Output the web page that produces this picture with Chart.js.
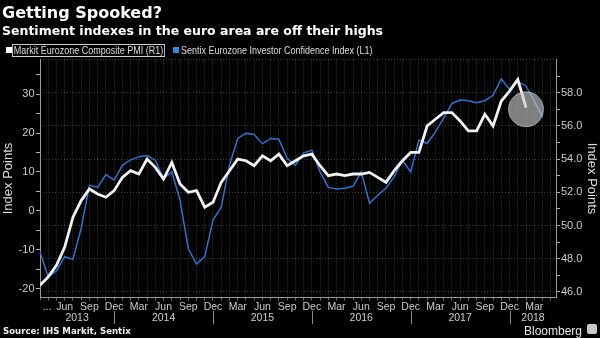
<!DOCTYPE html>
<html>
<head>
<meta charset="utf-8">
<script src="https://cdn.jsdelivr.net/npm/chart.js@4.4.1/dist/chart.umd.min.js"></script>
<style>
html,body{margin:0;padding:0;background:#000;}
#wrap{position:relative;width:600px;height:338px;overflow:hidden;background:#000;}
#c{position:absolute;left:0;top:0;}
.t{position:absolute;white-space:nowrap;}
#title{left:2px;top:4px;line-height:18px;font-family:"DejaVu Sans",sans-serif;font-weight:bold;font-size:16px;color:#fff;}
#sub{left:2px;top:22.5px;line-height:15px;font-family:"DejaVu Sans",sans-serif;font-weight:bold;font-size:12.5px;color:#fff;}
.leg{top:44.5px;line-height:11px;font-family:"Liberation Sans",Arial,sans-serif;font-size:10px;color:#dedede;transform:scaleX(0.9);transform-origin:0 50%;}
.sq{position:absolute;top:47px;width:6px;height:6px;}
#src{left:3px;top:326px;line-height:10px;font-family:"DejaVu Sans",sans-serif;font-weight:bold;font-size:8.6px;color:#eee;}
#bb{left:524px;top:324.5px;line-height:12px;font-family:"Liberation Sans",sans-serif;font-size:12px;color:#e6e6e6;}
#bbicon{position:absolute;left:587px;top:324px;width:10px;height:10px;border-radius:2px;background:#c9c9c9;}
</style>
</head>
<body>
<div id="wrap">
<canvas id="c" width="600" height="338"></canvas>
<div class="t" id="title">Getting Spooked?</div>
<div class="t" id="sub">Sentiment indexes in the euro area are off their highs</div>
<div class="sq" style="left:6px;background:#fff;"></div>
<div class="t leg" style="left:12px;border:1px solid #d0d0d0;padding:0 1px;top:43.5px;">Markit Eurozone Composite PMI (R1)</div>
<div class="sq" style="left:173px;background:#2d8ae6;"></div>
<div class="t leg" style="left:181px;">Sentix Eurozone Investor Confidence Index (L1)</div>
<div class="t" id="src">Source: IHS Markit, Sentix</div>
<div class="t" id="bb">Bloomberg</div>
<div id="bbicon"></div>
</div>
<script>
// ---- data ----
const categories = [
 'Mar 2013','Apr 2013','May 2013','Jun 2013','Jul 2013','Aug 2013','Sep 2013','Oct 2013','Nov 2013','Dec 2013',
 'Jan 2014','Feb 2014','Mar 2014','Apr 2014','May 2014','Jun 2014','Jul 2014','Aug 2014','Sep 2014','Oct 2014','Nov 2014','Dec 2014',
 'Jan 2015','Feb 2015','Mar 2015','Apr 2015','May 2015','Jun 2015','Jul 2015','Aug 2015','Sep 2015','Oct 2015','Nov 2015','Dec 2015',
 'Jan 2016','Feb 2016','Mar 2016','Apr 2016','May 2016','Jun 2016','Jul 2016','Aug 2016','Sep 2016','Oct 2016','Nov 2016','Dec 2016',
 'Jan 2017','Feb 2017','Mar 2017','Apr 2017','May 2017','Jun 2017','Jul 2017','Aug 2017','Sep 2017','Oct 2017','Nov 2017','Dec 2017',
 'Jan 2018','Feb 2018','Mar 2018','Apr 2018'
];
// Markit Eurozone Composite PMI (right axis)
const pmiValues = [
 46.4,46.9,47.6,48.7,50.5,51.5,52.2,51.9,51.7,52.1,
 52.9,53.3,53.1,54.0,53.5,52.8,53.8,52.5,52.0,52.1,51.1,51.4,
 52.6,53.3,54.0,53.9,53.6,54.2,53.9,54.3,53.6,53.9,54.2,54.3,
 53.6,53.0,53.1,53.0,53.1,53.1,53.2,52.9,52.6,53.3,53.9,54.4,
 54.4,56.0,56.4,56.8,56.8,56.3,55.7,55.7,56.7,56.0,57.5,58.1,
 58.8,57.1
];
// Sentix Eurozone Investor Confidence (left axis)
const sentixValues = [
 -10.5,-17.1,-15.4,-11.8,-12.5,-4.5,6.6,6.0,9.3,7.9,
 11.7,13.1,13.9,14.2,13.0,8.3,10.0,2.7,-9.7,-13.7,-11.8,-2.4,
 0.9,11.7,18.6,19.9,19.6,17.2,18.6,18.4,13.5,11.7,14.9,15.6,
 10.0,6.0,5.6,5.8,6.3,10.0,1.9,4.0,5.8,8.7,13.0,10.0,
 18.2,17.3,20.3,23.8,27.6,28.5,28.3,27.8,28.3,29.7,33.9,31.2,
 33.2,32.1,null,24.2
];
const highlightValue = 57.0;           // circled latest PMI reading
const leftTickValues = [-20,-15,-10,-5,0,5,10,15,20,25,30,35];
const leftLabelEvery = 10;
const rightTickValues = [46,47,48,49,50,51,52,53,54,55,56,57,58,59,60];
const rightLabels = ['46.0','48.0','50.0','52.0','54.0','56.0','58.0'];
const firstTickLabel = '...';
const yearLabels = ['2013','2014','2015','2016','2017','2018'];

// ---- derived ----
const X_MAX = 62.7;
const ELLIPSIS_POS = 0.85;
const monthTicks = [];
for (let k = 0; k <= 62; k++) monthTicks.push(k);
const quarterLabel = k => (k > 0 && k % 3 === 0 && k < categories.length) ? categories[k].slice(0,3) : '';
const decIdx = categories.map((c,i)=>c.startsWith('Dec') ? i : -1).filter(i=>i>=0);

const FONT = '"Liberation Sans", Arial, sans-serif';
Chart.defaults.font.family = FONT;
Chart.defaults.color = '#cccccc';

const GRID = 'rgba(255,255,255,0.24)';
const AXIS = '#9a9a9a';

const yearPlugin = {
  id: 'years',
  afterDraw(chart) {
    const xs = chart.scales.x, ctx = chart.ctx;
    ctx.save();
    ctx.strokeStyle = '#8a8a8a';
    ctx.lineWidth = 1;
    decIdx.forEach(k => {
      const px = Math.round(xs.getPixelForValue(k)) + 0.5;
      ctx.beginPath(); ctx.moveTo(px, xs.top + 13.5); ctx.lineTo(px, xs.top + 26.5); ctx.stroke();
    });
    const bounds = [0, ...decIdx, X_MAX];
    ctx.fillStyle = '#cfcfcf';
    ctx.font = '10.5px ' + FONT;
    ctx.textAlign = 'center';
    ctx.textBaseline = 'middle';
    yearLabels.forEach((y, i) => {
      const mid = (bounds[i] + bounds[i+1]) / 2;
      ctx.fillText(y, xs.getPixelForValue(mid), xs.top + 21);
    });
    ctx.restore();
  }
};

new Chart(document.getElementById('c'), {
  type: 'line',
  data: {
    datasets: [
      {
        label: 'highlight',
        data: [{x: pmiValues.length - 1, y: highlightValue}],
        yAxisID: 'y1',
        showLine: false,
        pointRadius: 17.5,
        pointHoverRadius: 17.5,
        pointBackgroundColor: 'rgba(205,205,205,0.62)',
        pointBorderColor: 'rgba(225,225,225,0.5)',
        pointBorderWidth: 1
      },
      {
        label: 'Markit Eurozone Composite PMI (R1)',
        data: pmiValues.map((v,i)=>({x:i, y:v})),
        yAxisID: 'y1',
        borderColor: '#f2f2f2',
        borderWidth: 2.8,
        pointRadius: 0,
        tension: 0
      },
      {
        label: 'Sentix Eurozone Investor Confidence Index (L1)',
        data: sentixValues.map((v,i)=>({x:i, y:v})),
        yAxisID: 'y',
        borderColor: '#2a74d0',
        borderWidth: 1.5,
        pointRadius: 0,
        spanGaps: true,
        tension: 0
      }
    ]
  },
  options: {
    responsive: false,
    animation: false,
    events: [],
    layout: { padding: { top: 59.5, left: 0, right: 0, bottom: 0 } },
    plugins: { legend: { display: false }, tooltip: { enabled: false } },
    scales: {
      x: {
        type: 'linear',
        min: 0, max: X_MAX,
        afterBuildTicks: s => {
          const t = monthTicks.map(v => ({value: v}));
          t.splice(1, 0, {value: ELLIPSIS_POS});
          s.ticks = t;
        },
        afterFit: s => { s.height = 40.5; },
        ticks: {
          autoSkip: false, maxRotation: 0, minRotation: 0,
          padding: 0,
          color: '#cccccc',
          font: { size: 10.5 },
          callback: v => v === ELLIPSIS_POS ? firstTickLabel : quarterLabel(v)
        },
        grid: {
          color: c => (c.tick && Number.isInteger(c.tick.value)) ? GRID : 'rgba(0,0,0,0)',
          tickColor: c => (c.tick && Number.isInteger(c.tick.value)) ? '#6a6a6a' : 'rgba(0,0,0,0)',
          tickLength: 3,
          lineWidth: 1
        },
        border: { display: true, color: AXIS, width: 1, dash: [1,2] }
      },
      y: {
        position: 'left',
        min: -22.3, max: 38.9,
        afterBuildTicks: s => { s.ticks = leftTickValues.map(v => ({value: v})); },
        afterFit: s => { s.width = 40; },
        ticks: {
          padding: 1.5,
          color: '#cccccc',
          font: { size: 11 },
          callback: v => (v % leftLabelEvery === 0) ? String(v) : ''
        },
        grid: { drawOnChartArea: false, tickColor: '#b0b0b0', tickLength: 4 },
        border: { display: true, color: AXIS, width: 1 },
        title: { display: true, text: 'Index Points', color: '#dddddd', font: { size: 13 }, padding: { top: 1, bottom: 0 } }
      },
      y1: {
        position: 'right',
        min: 45.66, max: 60.0,
        afterBuildTicks: s => { s.ticks = rightTickValues.map(v => ({value: v})); },
        afterFit: s => { s.width = 43.5; },
        ticks: {
          padding: 1,
          color: '#cccccc',
          font: { size: 11 },
          callback: v => { const l = v.toFixed(1); return rightLabels.includes(l) ? l : ''; }
        },
        grid: {
          drawOnChartArea: true,
          color: c => (c.tick && c.tick.value % 2 === 0) ? GRID : 'rgba(0,0,0,0)',
          tickColor: c => (c.tick && c.tick.value < 60) ? '#b0b0b0' : 'rgba(0,0,0,0)',
          tickLength: 3.5
        },
        border: { display: true, color: AXIS, width: 1, dash: [1,2] },
        title: { display: true, text: 'Index Points', color: '#dddddd', font: { size: 13 }, padding: { top: 1, bottom: 0 } }
      }
    }
  },
  plugins: [yearPlugin]
});
</script>
</body>
</html>
